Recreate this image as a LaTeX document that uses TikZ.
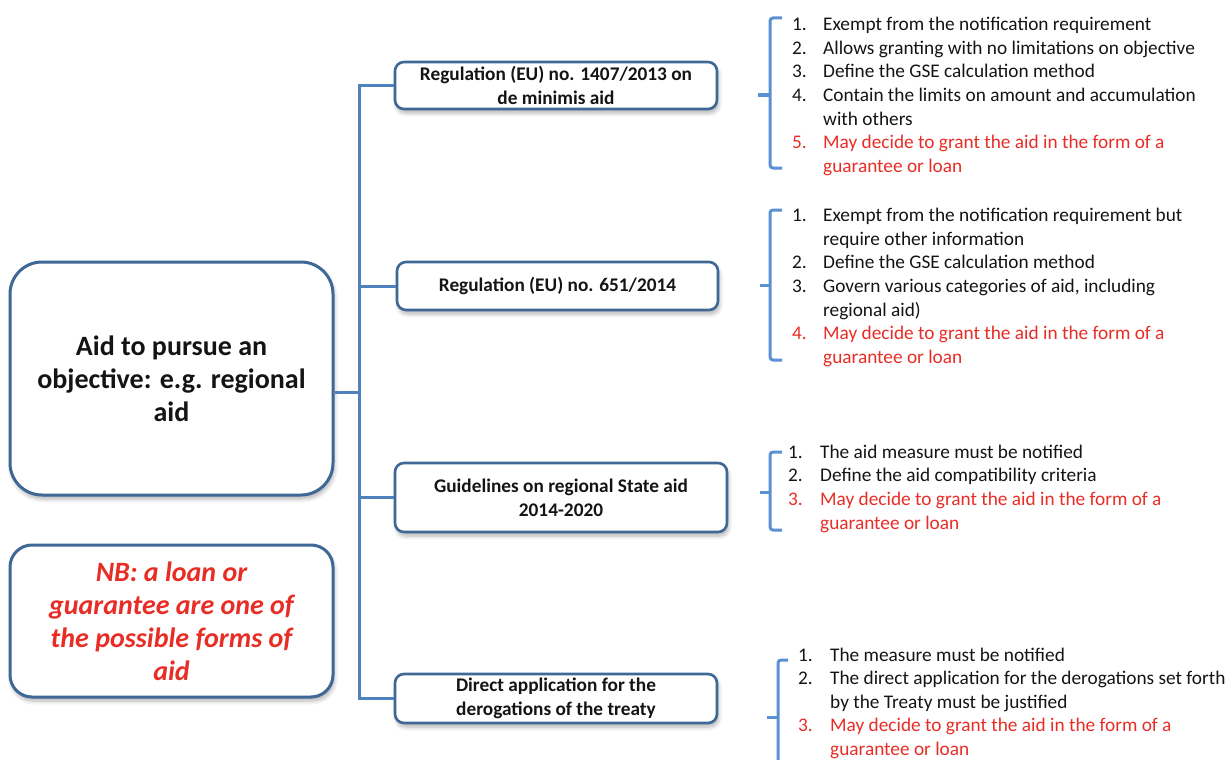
\documentclass[tikz,border=0pt]{standalone}
\usepackage{fontspec}
\setmainfont{Carlito}
\usepackage{array}
\usetikzlibrary{shadows.blur}
\definecolor{boxblue}{RGB}{62,104,150}
\definecolor{lineblue}{RGB}{79,129,189}
\definecolor{brblue}{RGB}{91,145,210}
\definecolor{txtred}{RGB}{232,45,38}
\definecolor{txtblack}{RGB}{20,20,20}
\newcommand{\rd}[1]{\textcolor{txtred}{#1}}
\tikzset{
  boxshadow/.style={blur shadow={shadow xshift=1.5pt, shadow yshift=-4pt, shadow blur steps=6, shadow blur radius=4pt, shadow opacity=30}},
  bigbox/.style={draw=boxblue, line width=3pt, fill=white, align=center, inner sep=0pt,
    minimum width=323pt, boxshadow},
  smallbox/.style={draw=boxblue, line width=2.6pt, fill=white, align=center, inner sep=0pt,
    rounded corners=9pt, font=\fontsize{19.3}{23.6}\selectfont\bfseries, text=txtblack, boxshadow},
  conn/.style={draw=lineblue, line width=3pt},
  brk/.style={draw=brblue, line width=3pt, rounded corners=3pt},
  listtext/.style={anchor=base west, inner sep=0pt, font=\fontsize{19.3}{23.6}\selectfont, text=txtblack}
}
\begin{document}
\begin{tikzpicture}[x=1pt,y=-1pt]
\useasboundingbox (0,0) rectangle (1232,760);
% left boxes
\node[bigbox, rounded corners=32pt, minimum height=233pt, font=\fontsize{28}{33}\selectfont\bfseries, text=txtblack]
  (main) at (171.5,378.5) {Aid to pursue an\\objective: e.g. regional\\aid};
\node[bigbox, rounded corners=22pt, minimum height=152pt, font=\fontsize{28}{33}\selectfont\bfseries\itshape, text=txtred]
  (nb) at (171.5,621) {NB: a loan or\\guarantee are one of\\the possible forms of\\aid};
% middle boxes
\node[smallbox, minimum width=322pt, minimum height=47pt] (b1) at (556,85.5) {Regulation (EU) no. 1407/2013 on\\de minimis aid};
\node[smallbox, minimum width=321pt, minimum height=48pt] (b2) at (557.5,286) {Regulation (EU) no. 651/2014};
\node[smallbox, minimum width=332pt, minimum height=69pt] (b3) at (561,497.5) {Guidelines on regional State aid\\2014-2020};
\node[smallbox, minimum width=322pt, minimum height=49pt] (b4) at (556,698.5) {Direct application for the\\derogations of the treaty};
% connectors
\coordinate (trunk) at (359,392);
\draw[conn] (main.east |- trunk) -- (trunk);
\draw[conn] (b1.west) -- (b1.west -| trunk) -- (b4.west -| trunk) -- (b4.west);
\draw[conn] (b2.west) -- (b2.west -| trunk);
\draw[conn] (b3.west) -- (b3.west -| trunk);
% brackets
\draw[brk] (782,18) -- (770,18) -- (770,168) -- (782,168);
\draw[brk] (770,95) -- (758,95);
\draw[brk] (782,210) -- (770,210) -- (770,360) -- (782,360);
\draw[brk] (770,285) -- (760,285);
\draw[brk] (782,452) -- (770,452) -- (770,530) -- (782,530);
\draw[brk] (770,492) -- (760,492);
\draw[brk] (788,660) -- (778,660) -- (778,790) -- (788,790);
\draw[brk] (778,717) -- (767,717);
% lists
\node[listtext] (l1) at (792,30.7) {\begin{tabular}[t]{@{}p{31pt}@{}l@{}}
1. & Exempt from the notification requirement\\
2. & Allows granting with no limitations on objective\\
3. & Define the GSE calculation method\\
4. & Contain the limits on amount and accumulation\\
   & with others\\
\rd{5.} & \rd{May decide to grant the aid in the form of a}\\
   & \rd{guarantee or loan}
\end{tabular}};
\node[listtext] (l2) at (792,221.7) {\begin{tabular}[t]{@{}p{31pt}@{}l@{}}
1. & Exempt from the notification requirement but\\
   & require other information\\
2. & Define the GSE calculation method\\
3. & Govern various categories of aid, including\\
   & regional aid)\\
\rd{4.} & \rd{May decide to grant the aid in the form of a}\\
   & \rd{guarantee or loan}
\end{tabular}};
\node[listtext] (l3) at (788,458.3) {\begin{tabular}[t]{@{}p{32pt}@{}l@{}}
1. & The aid measure must be notified\\
2. & Define the aid compatibility criteria\\
\rd{3.} & \rd{May decide to grant the aid in the form of a}\\
   & \rd{guarantee or loan}
\end{tabular}};
\node[listtext] (l4) at (798,661) {\begin{tabular}[t]{@{}p{32pt}@{}l@{}}
1. & The measure must be notified\\
2. & The direct application for the derogations set forth\\
   & by the Treaty must be justified\\
\rd{3.} & \rd{May decide to grant the aid in the form of a}\\
   & \rd{guarantee or loan}
\end{tabular}};
\end{tikzpicture}
\end{document}
